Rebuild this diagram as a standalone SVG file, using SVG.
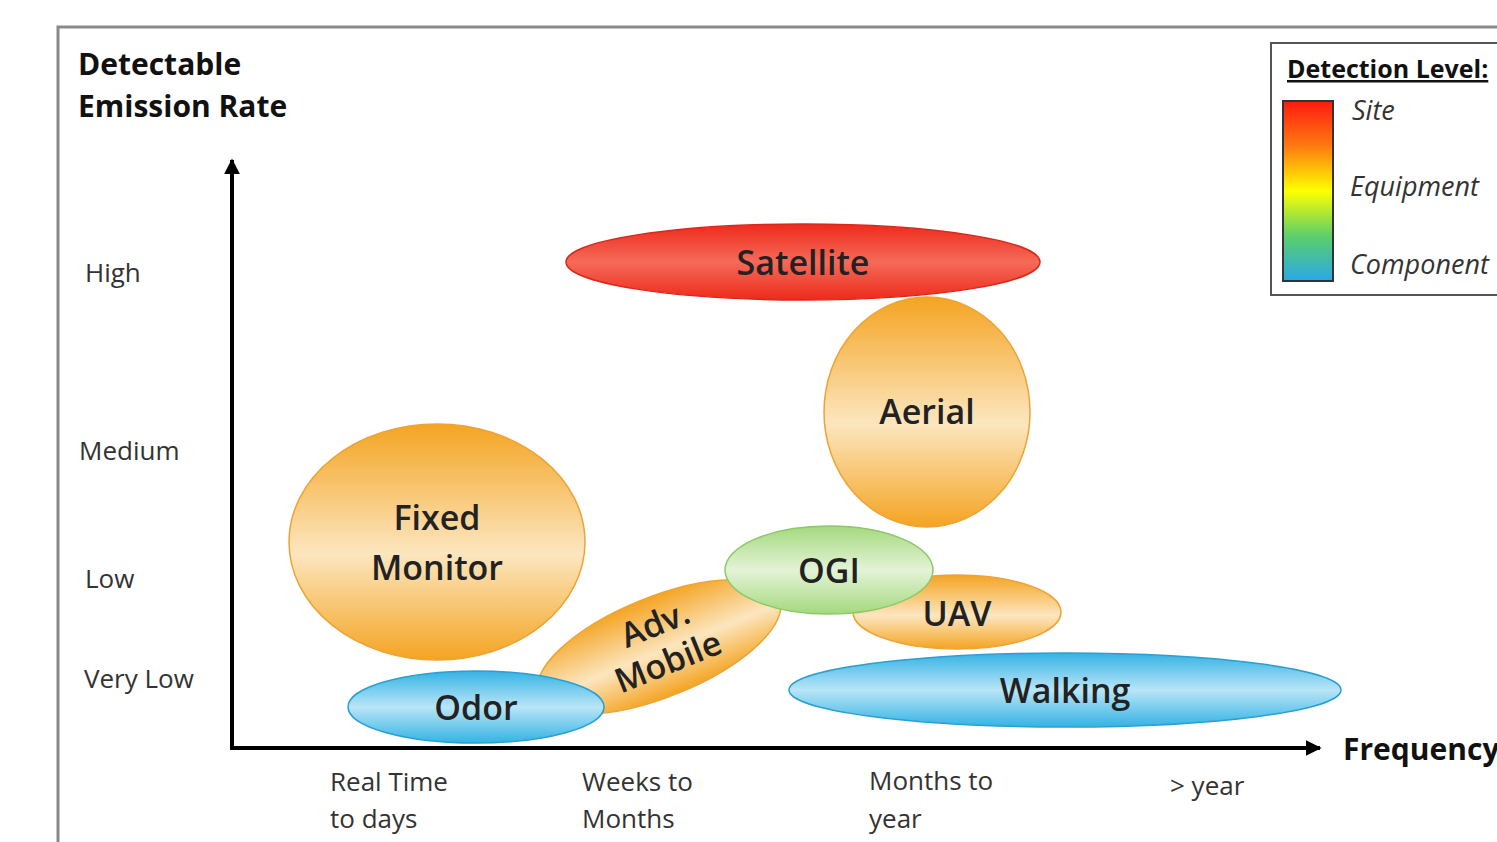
<svg xmlns="http://www.w3.org/2000/svg" width="1497" height="842" viewBox="0 0 1497 842">
<defs>
<linearGradient id="gOrange" x1="0" y1="0" x2="0" y2="1">
<stop offset="0" stop-color="#F4A422"/><stop offset="0.55" stop-color="#FCE6BF"/><stop offset="1" stop-color="#F4A422"/>
</linearGradient>
<linearGradient id="gRed" x1="0" y1="0" x2="0" y2="1">
<stop offset="0" stop-color="#EE2A1C"/><stop offset="0.5" stop-color="#F56A58"/><stop offset="1" stop-color="#EE2A1C"/>
</linearGradient>
<linearGradient id="gGreen" x1="0" y1="0" x2="0" y2="1">
<stop offset="0" stop-color="#A4D97E"/><stop offset="0.5" stop-color="#E4F3D6"/><stop offset="1" stop-color="#A4D97E"/>
</linearGradient>
<linearGradient id="gBlue" x1="0" y1="0" x2="0" y2="1">
<stop offset="0" stop-color="#34B3E4"/><stop offset="0.5" stop-color="#B9E5F7"/><stop offset="1" stop-color="#34B3E4"/>
</linearGradient>
<linearGradient id="gLegend" x1="0" y1="0" x2="0" y2="1">
<stop offset="0" stop-color="#FF1A10"/><stop offset="0.25" stop-color="#FF7A10"/><stop offset="0.5" stop-color="#FFFF00"/><stop offset="0.75" stop-color="#5CCF6A"/><stop offset="1" stop-color="#2AA8E8"/>
</linearGradient>
<marker id="arr" viewBox="0 0 10 10" refX="9" refY="5" markerWidth="4" markerHeight="4" orient="auto" markerUnits="strokeWidth">
<path d="M0,0 L10,5 L0,10 z" fill="#000"/>
</marker>
<style>
text{font-family:"Open Sans","Liberation Sans",sans-serif;fill:#222}
.node{font-size:34px;font-weight:600;text-anchor:middle}
.ax{font-size:26px;fill:#333}
.title{font-size:30px;font-weight:bold;fill:#111}
.leg{font-size:27px;font-style:italic;fill:#333}
.or{fill:url(#gOrange);stroke:#EDA335;stroke-width:1.5}
</style>
</defs>
<rect x="0" y="0" width="1497" height="842" fill="#fff"/>
<path d="M58,842 V27 H1497" fill="none" stroke="#8a8a8a" stroke-width="3"/>

<g id="connectors">
<line x1="232" y1="749" x2="232" y2="160" stroke="#000" stroke-width="4" marker-end="url(#arr)"/>
<line x1="230" y1="748" x2="1320" y2="748" stroke="#000" stroke-width="4" marker-end="url(#arr)"/>
</g>

<g id="axis-labels">
<text class="title" x="78" y="75">Detectable</text>
<text class="title" x="78" y="117">Emission Rate</text>
<text class="ax" x="85" y="282">High</text>
<text class="ax" x="79" y="460">Medium</text>
<text class="ax" x="85" y="588">Low</text>
<text class="ax" x="84" y="688">Very Low</text>
<text class="ax" x="330" y="791">Real Time</text>
<text class="ax" x="330" y="828">to days</text>
<text class="ax" x="582" y="791">Weeks to</text>
<text class="ax" x="582" y="828">Months</text>
<text class="ax" x="869" y="790">Months to</text>
<text class="ax" x="869" y="828">year</text>
<text class="ax" x="1170" y="795">&gt; year</text>
<text class="title" x="1343" y="760">Frequency</text>
</g>

<g id="legend">
<rect x="1271" y="43" width="240" height="252" fill="#fff" stroke="#555" stroke-width="2"/>
<text x="1287" y="78" style="font-size:25px;font-weight:bold;fill:#111;text-decoration:underline">Detection Level:</text>
<rect x="1283" y="101" width="50" height="180" fill="url(#gLegend)" stroke="#333" stroke-width="2"/>
<text class="leg" x="1352" y="120">Site</text>
<text class="leg" x="1350" y="196">Equipment</text>
<text class="leg" x="1350" y="274">Component</text>
</g>

<g id="satellite">
<ellipse cx="803" cy="262" rx="237" ry="38" fill="url(#gRed)" stroke="#D8281C" stroke-width="1.5"/>
<text class="node" x="803" y="275">Satellite</text>
</g>
<g id="aerial">
<ellipse cx="927" cy="412" rx="103" ry="115" class="or"/>
<text class="node" x="927" y="424">Aerial</text>
</g>
<g id="fixed-monitor">
<ellipse cx="437" cy="542" rx="148" ry="118" class="or"/>
<text class="node" x="437" y="530">Fixed</text>
<text class="node" x="437" y="580">Monitor</text>
</g>
<g id="uav">
<ellipse cx="957" cy="612" rx="104" ry="37" class="or"/>
<text class="node" x="957" y="626">UAV</text>
</g>
<g id="adv-mobile">
<ellipse cx="659" cy="647" rx="130" ry="50" transform="rotate(-22 659 647)" class="or"/>
<g transform="rotate(-22 659 647)">
<text class="node" x="664" y="636">Adv.</text>
<text class="node" x="662" y="676">Mobile</text>
</g>
</g>
<g id="ogi">
<ellipse cx="829" cy="570" rx="104" ry="44" fill="url(#gGreen)" stroke="#8CC86A" stroke-width="1.5"/>
<text class="node" x="829" y="583">OGI</text>
</g>
<g id="walking">
<ellipse cx="1065" cy="690" rx="276" ry="37" fill="url(#gBlue)" stroke="#2A9FD2" stroke-width="1.5"/>
<text class="node" x="1065" y="703">Walking</text>
</g>
<g id="odor">
<ellipse cx="476" cy="707" rx="128" ry="36" fill="url(#gBlue)" stroke="#2A9FD2" stroke-width="1.5"/>
<text class="node" x="476" y="720">Odor</text>
</g>
</svg>
